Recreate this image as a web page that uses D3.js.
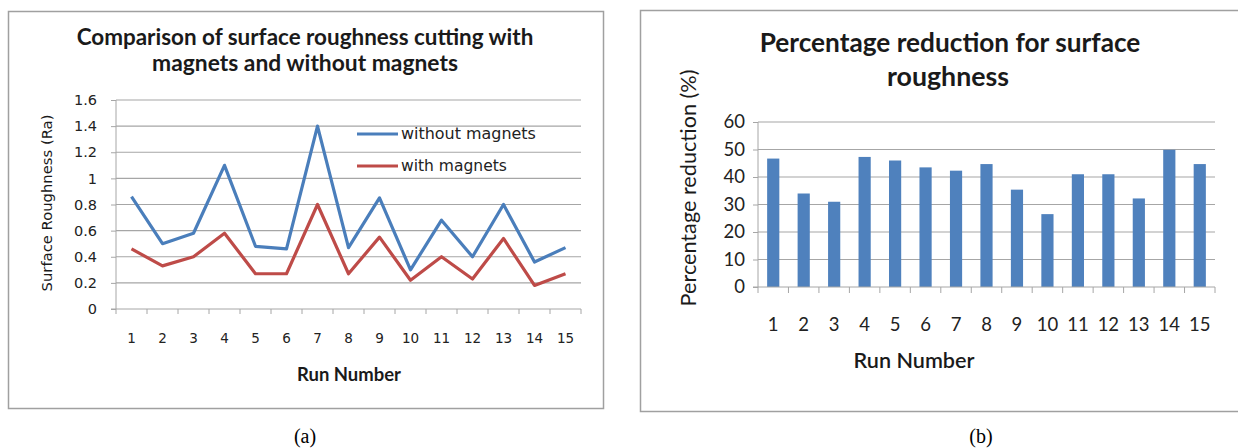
<!DOCTYPE html>
<html><head><meta charset="utf-8">
<script src="https://cdn.jsdelivr.net/npm/d3@7"></script>
<style>body{margin:0;background:#fff}svg{display:block}</style>
</head><body>
<svg id="c" width="1238" height="448"></svg>
<script>
const runs = ["1","2","3","4","5","6","7","8","9","10","11","12","13","14","15"];
const withoutMagnets = [0.86,0.50,0.58,1.10,0.48,0.46,1.40,0.47,0.85,0.30,0.68,0.40,0.80,0.36,0.47];
const withMagnets = [0.46,0.33,0.40,0.58,0.27,0.27,0.80,0.27,0.55,0.22,0.40,0.23,0.54,0.18,0.27];
const reduction = [46.7,34.0,31.0,47.3,46.0,43.5,42.3,44.7,35.4,26.5,41.0,41.0,32.2,49.9,44.7];
const ticksA = [0,0.2,0.4,0.6,0.8,1,1.2,1.4,1.6];
const ticksB = [0,10,20,30,40,50,60];

const svg = d3.select("#c");
const cal = "Lato, 'Open Sans', sans-serif";
const ver = "'DejaVu Sans', Verdana, sans-serif";
const grid = "#a6a6a6";

function fit(sel, w) {
  const fs = parseFloat(sel.attr("font-size"));
  const len = sel.node().getComputedTextLength();
  if (len > 0) sel.attr("font-size", fs * w / len);
  return sel;
}
function txt(x, y, s, fam, fs, weight, w, rot) {
  const t = svg.append("text").attr("text-anchor","middle")
    .attr("font-family",fam).attr("font-size",fs).attr("font-weight",weight||"normal")
    .attr("fill","#1a1a1a").text(s);
  if (rot) t.attr("transform",`translate(${x},${y}) rotate(-90)`);
  else t.attr("x",x).attr("y",y);
  if (w) fit(t, w);
  return t;
}

// Panel borders
svg.append("rect").attr("x",8.5).attr("y",11.5).attr("width",595).attr("height",397)
  .attr("fill","none").attr("stroke","#a0a0a0").attr("stroke-width",1.5);
svg.append("rect").attr("x",640.5).attr("y",10.5).attr("width",620).attr("height",401)
  .attr("fill","none").attr("stroke","#a0a0a0").attr("stroke-width",1.5);

// ---- Chart A ----
{
  const L=116,R=581,T=100,B=309;
  const x = d3.scaleBand().domain(runs).range([L,R]);
  const y = d3.scaleLinear().domain([0,1.6]).range([B,T]);
  const g = svg.append("g");
  g.append("g").selectAll("line").data(ticksA.filter(d=>d>0)).join("line")
    .attr("x1",L).attr("x2",R).attr("y1",d=>y(d)).attr("y2",d=>y(d))
    .attr("stroke",grid).attr("stroke-width",1.2);
  const ya = g.append("g").attr("transform",`translate(${L},0)`)
    .call(d3.axisLeft(y).tickValues(ticksA).tickSize(5).tickPadding(14).tickFormat(d=>String(d)));
  ya.select(".domain").attr("stroke",grid).attr("d",`M-5,${B}H0V${T}`);
  ya.selectAll(".tick line").attr("stroke",grid);
  ya.selectAll("text").attr("font-family",ver).attr("font-size",14.5).attr("fill","#222");
  const xa = g.append("g").attr("transform",`translate(0,${B})`)
    .call(d3.axisBottom(x).tickSize(0).tickPadding(24));
  xa.select(".domain").attr("stroke",grid).attr("d",`M${L},0H${R}`);
  xa.selectAll("text").attr("font-family",ver).attr("font-size",13.5).attr("fill","#222");
  g.append("g").selectAll("line").data(d3.range(16)).join("line")
    .attr("x1",i=>L+i*x.step()).attr("x2",i=>L+i*x.step()).attr("y1",B).attr("y2",B+5)
    .attr("stroke",grid);
  const line = d3.line().x((d,i)=>x(runs[i])+x.bandwidth()/2).y(d=>y(d));
  g.append("path").datum(withoutMagnets).attr("d",line).attr("fill","none")
    .attr("stroke","#4a7ebb").attr("stroke-width",3.2).attr("stroke-linejoin","round");
  g.append("path").datum(withMagnets).attr("d",line).attr("fill","none")
    .attr("stroke","#be4b48").attr("stroke-width",3.2).attr("stroke-linejoin","round");
  const leg = [["without magnets","#4a7ebb",134,135],["with magnets","#be4b48",166,106]];
  leg.forEach(([t,c,yy,w])=>{
    g.append("line").attr("x1",357).attr("x2",398).attr("y1",yy).attr("y2",yy)
      .attr("stroke",c).attr("stroke-width",3.2);
    const tt = g.append("text").attr("x",401).attr("y",yy+5).text(t)
      .attr("font-family",ver).attr("font-size",14.5).attr("fill","#222");
    fit(tt, w);
  });
  txt(305, 45, "Comparison of surface roughness cutting with", cal, 18, "bold", 457);
  txt(305, 71, "magnets and without magnets", cal, 18, "bold", 306);
  txt(52, 203, "Surface Roughness  (Ra)", ver, 13, "normal", 177, true);
  txt(349, 381, "Run Number", cal, 16, "bold", 104);
  svg.append("text").attr("x",305).attr("y",443).attr("text-anchor","middle")
    .attr("font-family","'Liberation Serif', serif").attr("font-size",20).attr("fill","#000").text("(a)");
}

// ---- Chart B ----
{
  const L=758,R=1215,T=122,B=287;
  const x = d3.scaleBand().domain(runs).range([L,R]).paddingInner(0.6).paddingOuter(0.3);
  const xs = (R-L)/15;
  const y = d3.scaleLinear().domain([0,60]).range([B,T]);
  const g = svg.append("g");
  g.append("g").selectAll("line").data(ticksB.filter(d=>d>0)).join("line")
    .attr("x1",L).attr("x2",R).attr("y1",d=>y(d)).attr("y2",d=>y(d))
    .attr("stroke",grid).attr("stroke-width",1.2);
  g.append("g").selectAll("rect").data(reduction).join("rect")
    .attr("x",(d,i)=>x(runs[i])).attr("width",x.bandwidth())
    .attr("y",d=>y(d)).attr("height",d=>B-y(d)).attr("fill","#4f81bd");
  const ya = g.append("g").attr("transform",`translate(${L},0)`)
    .call(d3.axisLeft(y).tickValues(ticksB).tickSize(5).tickPadding(8));
  ya.select(".domain").attr("stroke",grid).attr("d",`M-5,${B}H0V${T}`);
  ya.selectAll(".tick line").attr("stroke",grid);
  ya.selectAll("text").attr("font-family",cal).attr("font-size",18.5).attr("fill","#222");
  const xa = g.append("g").attr("transform",`translate(0,${B})`)
    .call(d3.axisBottom(x).tickSize(0).tickPadding(31));
  xa.select(".domain").attr("stroke",grid).attr("d",`M${L},0H${R}`);
  xa.selectAll("text").attr("font-family",cal).attr("font-size",18.5).attr("fill","#222");
  g.append("g").selectAll("line").data(d3.range(16)).join("line")
    .attr("x1",i=>L+i*xs).attr("x2",i=>L+i*xs).attr("y1",B).attr("y2",B+6)
    .attr("stroke",grid);
  txt(950, 52, "Percentage reduction for surface", cal, 22, "bold", 381);
  txt(948, 86, "roughness", cal, 22, "bold", 122);
  txt(696, 188, "Percentage reduction  (%)", cal, 18, "normal", 237, true);
  txt(914, 368, "Run Number", cal, 19, "600", 121);
  svg.append("text").attr("x",981).attr("y",443).attr("text-anchor","middle")
    .attr("font-family","'Liberation Serif', serif").attr("font-size",20).attr("fill","#000").text("(b)");
}
</script>
</body></html>
